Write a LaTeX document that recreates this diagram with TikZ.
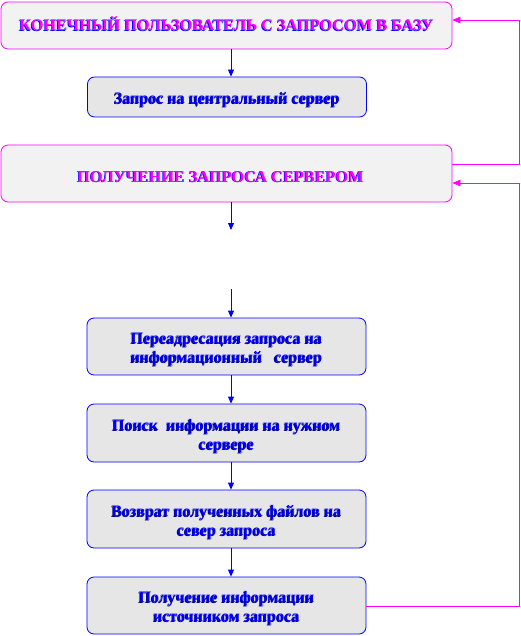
\documentclass[tikz,border=0pt]{standalone}
\usepackage{fontspec}
\setmainfont{Liberation Serif}[BoldFont={Liberation Serif Bold}]
\usetikzlibrary{arrows.meta}
\definecolor{pinkc}{HTML}{FF00FF}
\definecolor{bluec}{HTML}{0000FF}
\definecolor{navyc}{HTML}{000080}
\definecolor{paleg}{HTML}{F2F2F2}
\definecolor{midg}{HTML}{E6E6E6}
\tikzset{
  bigbox/.style={draw=pinkc,fill=paleg,rounded corners=7pt,line width=0.8pt,
    minimum width=451pt,font=\bfseries\fontsize{16.3}{19}\selectfont},
  stepbox/.style={draw=bluec,fill=midg,rounded corners=7pt,line width=0.8pt,
    minimum width=279pt,align=center,font=\bfseries\fontsize{16}{19}\selectfont},
  flow/.style={-{Triangle[length=7pt,width=6pt]},bluec,line width=0.8pt},
  back/.style={-{Triangle[length=8pt,width=6.5pt]},pinkc,line width=0.8pt},
}
\newcommand{\shd}[3]{% colour, shadow colour, text
  \rlap{\color{#2}\kern-0.8pt\raisebox{-0.8pt}{#3}}{\color{#1}#3}}
\newcommand{\lowr}{\rule{0pt}{18pt}}% pushes the text a little down

\begin{document}
\begin{tikzpicture}[x=1pt,y=-1pt]
  \useasboundingbox (0,0) rectangle (521,636);
  \node[bigbox,minimum height=47pt] (user) at (226.5,25.5)
    {\raisebox{3pt}{\shd{pinkc}{bluec}{КОНЕЧНЫЙ ПОЛЬЗОВАТЕЛЬ С ЗАПРОСОМ В БАЗУ}}};
  \node[stepbox,minimum height=40pt] (req) at (227,97)
    {\lowr\shd{bluec}{navyc}{Запрос на центральный сервер}};
  \node[bigbox,minimum height=57pt] (srv) at (226.5,173.5)
    {\lowr\kern-12pt\shd{pinkc}{bluec}{ПОЛУЧЕНИЕ ЗАПРОСА СЕРВЕРОМ}};
  \node[stepbox,minimum height=57pt] (redir) at (226.5,346.5)
    {\lowr\shd{bluec}{navyc}{Переадресация запроса на}\\
     \shd{bluec}{navyc}{информационный\ \ \ сервер}};
  \node[stepbox,minimum height=58pt] (search) at (226.5,433)
    {\lowr\shd{bluec}{navyc}{Поиск\ \ информации на нужном}\\
     \shd{bluec}{navyc}{сервере}};
  \node[stepbox,minimum height=58pt] (ret) at (226.5,519)
    {\lowr\shd{bluec}{navyc}{Возврат полученных файлов на}\\
     \shd{bluec}{navyc}{север запроса}};
  \node[stepbox,minimum height=57pt] (get) at (226.5,605.5)
    {\lowr\shd{bluec}{navyc}{Получение информации}\\
     \shd{bluec}{navyc}{источником запроса}};
  % broken arrow below the server box
  \coordinate (gapA) at (231,230);
  \coordinate (gapB) at (231,289);
  \draw[flow] ([xshift=4.5pt]user.south) -- ([xshift=4pt]req.north);
  \draw[flow] ([xshift=4.5pt]srv.south) -- (gapA);
  \draw[flow] (gapB) -- ([xshift=4.5pt]redir.north);
  \draw[flow] ([xshift=4.5pt]redir.south) -- ([xshift=4.5pt]search.north);
  \draw[flow] ([xshift=4.5pt]search.south) -- ([xshift=4.5pt]ret.north);
  \draw[flow] ([xshift=4.5pt]ret.south) -- ([xshift=4.5pt]get.north);
  % feedback loops on the right
  \draw[back] ([yshift=9.5pt]srv.east) -- ++(67,0) |- ([yshift=5.5pt]user.east);
  \draw[back] ([yshift=-0.5pt]get.east) -- ++(153,0) |- ([yshift=-9.5pt]srv.east);
\end{tikzpicture}
\end{document}
